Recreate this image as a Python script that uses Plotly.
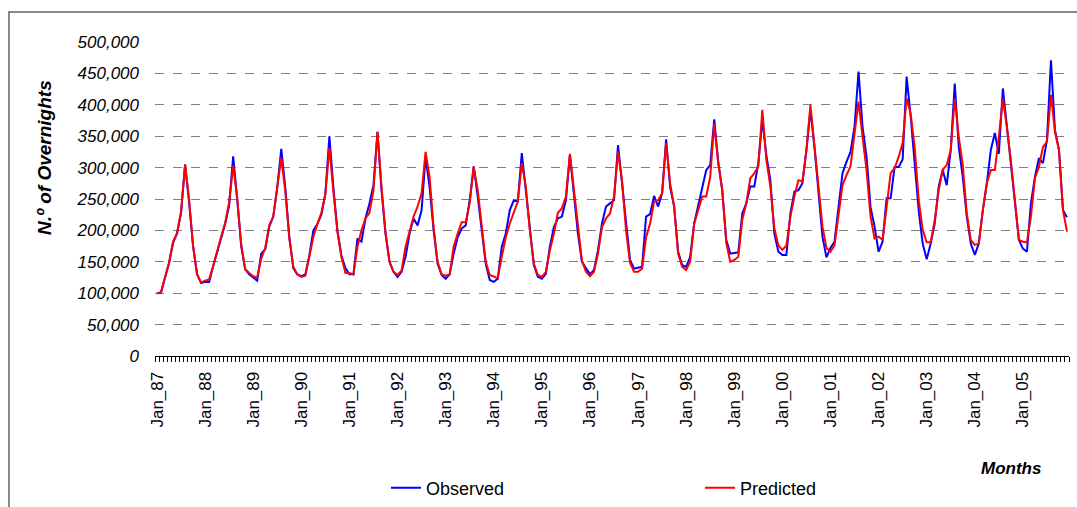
import plotly.graph_objects as go

years = list(range(1987, 2006))
month_names = ["Jan", "Feb", "Mar", "Apr", "May", "Jun", "Jul", "Aug", "Sep", "Oct", "Nov", "Dec"]
months = [f"{m}_{str(y)[2:]}" for y in years for m in month_names]

observed_k = [
    100, 101, 125, 148, 180, 195, 228, 305, 245, 175, 130, 116,   # 1987
    118, 118, 143, 165, 185, 210, 240, 318, 250, 175, 138, 130,   # 1988
    125, 120, 163, 170, 206, 222, 268, 330, 268, 190, 140, 130,   # 1989
    127, 130, 160, 200, 210, 225, 258, 350, 268, 200, 160, 140,   # 1990
    130, 130, 187, 182, 219, 243, 272, 357, 264, 195, 150, 134,   # 1991
    126, 134, 158, 195, 219, 208, 232, 317, 269, 200, 147, 129,   # 1992
    123, 130, 163, 189, 203, 208, 248, 302, 254, 205, 147, 121,   # 1993
    118, 123, 174, 195, 232, 248, 246, 323, 264, 200, 145, 126,   # 1994
    123, 131, 174, 205, 219, 222, 248, 320, 259, 195, 150, 139,   # 1995
    130, 137, 168, 211, 238, 243, 248, 336, 275, 211, 153, 139,   # 1996
    140, 142, 222, 226, 255, 238, 259, 345, 269, 238, 166, 145,   # 1997
    142, 158, 211, 238, 269, 296, 304, 377, 309, 264, 185, 163,   # 1998
    164, 165, 227, 243, 270, 270, 307, 376, 320, 280, 195, 166,   # 1999
    161, 161, 227, 262, 264, 275, 328, 392, 333, 259, 190, 157,   # 2000
    172, 182, 237, 291, 309, 325, 365, 453, 365, 317, 237, 206,   # 2001
    166, 182, 251, 251, 301, 301, 313, 445, 382, 300, 232, 179,   # 2002
    154, 179, 211, 270, 296, 272, 328, 434, 333, 285, 222, 179,   # 2003
    161, 179, 232, 275, 328, 355, 322, 426, 365, 312, 243, 185,   # 2004
    171, 166, 243, 285, 315, 307, 344, 471, 360, 328, 232, 221,   # 2005
]

predicted_k = [
    100, 101, 125, 148, 182, 196, 230, 305, 250, 175, 130, 117,   # 1987
    120, 122, 143, 168, 190, 212, 245, 303, 252, 178, 138, 132,   # 1988
    127, 125, 155, 172, 208, 222, 265, 316, 262, 188, 142, 130,   # 1989
    126, 128, 158, 190, 210, 228, 258, 332, 262, 198, 158, 132,   # 1990
    132, 130, 174, 200, 219, 228, 264, 357, 270, 197, 150, 134,   # 1991
    129, 136, 174, 200, 222, 238, 259, 325, 285, 205, 150, 130,   # 1992
    128, 130, 174, 195, 213, 213, 243, 301, 264, 208, 150, 129,   # 1993
    126, 124, 158, 189, 211, 228, 246, 307, 270, 200, 147, 129,   # 1994
    126, 134, 168, 195, 228, 235, 254, 322, 264, 200, 152, 134,   # 1995
    127, 134, 163, 205, 219, 227, 254, 325, 280, 200, 148, 134,   # 1996
    134, 139, 189, 211, 246, 248, 259, 339, 275, 238, 163, 142,   # 1997
    137, 150, 211, 232, 254, 254, 285, 370, 307, 264, 180, 150,   # 1998
    153, 158, 217, 243, 283, 291, 302, 392, 312, 270, 203, 176,   # 1999
    169, 176, 222, 254, 280, 278, 328, 400, 339, 270, 206, 172,   # 2000
    166, 176, 222, 272, 288, 302, 354, 405, 349, 296, 222, 187,   # 2001
    190, 185, 237, 291, 299, 317, 339, 410, 386, 333, 249, 201,   # 2002
    181, 181, 216, 264, 297, 304, 328, 410, 349, 304, 227, 185,   # 2003
    177, 179, 232, 275, 296, 296, 349, 410, 365, 312, 248, 185,   # 2004
    182, 181, 222, 283, 301, 333, 341, 416, 357, 328, 232, 198,   # 2005
]

observed = [v * 1000 for v in observed_k]
predicted = [v * 1000 for v in predicted_k]
x_idx = list(range(len(months)))
jan_idx = [i for i, m in enumerate(months) if m.startswith("Jan")]
jan_labels = [months[i] for i in jan_idx]

FONT = "Liberation Sans, Arial, sans-serif"

fig = go.Figure()
fig.add_trace(go.Scatter(x=x_idx, y=observed, mode="lines", name="Observed",
                         line=dict(color="#0000FF", width=2)))
fig.add_trace(go.Scatter(x=x_idx, y=predicted, mode="lines", name="Predicted",
                         line=dict(color="#FF0000", width=2)))

W, H = 1077, 507
L, R, T, B = 155, 8, 42, 151
pw, ph = W - L - R, H - T - B

def px(x):
    return (x - L) / pw

def py(y):
    return (H - B - y) / ph

fig.update_layout(
    width=W, height=H,
    margin=dict(l=L, r=R, t=T, b=B, pad=0, autoexpand=False),
    paper_bgcolor="white", plot_bgcolor="white",
    font=dict(family=FONT, color="#000000"),
    showlegend=True,
    legend=dict(orientation="h", x=px(386), y=py(488), xanchor="left", yanchor="middle",
                font=dict(size=18, family=FONT, color="#000000"),
                entrywidth=269, entrywidthmode="pixels",
                bgcolor="rgba(0,0,0,0)", tracegroupgap=0),
    xaxis=dict(range=[-0.5, len(months) - 0.5], tickmode="array", tickvals=jan_idx, ticktext=jan_labels,
               tickangle=-90, ticks="", showgrid=False, zeroline=False, automargin=False,
               showline=True, linecolor="#000000", linewidth=1,
               tickfont=dict(size=17, family=FONT, color="#000000"),
               ticklabelstandoff=8,
               minor=dict(tickmode="array", tickvals=[i - 0.5 for i in range(len(months) + 1)],
                          ticks="outside", ticklen=5, tickcolor="#000000", tickwidth=1, showgrid=False)),
    yaxis=dict(range=[0, 500000], tickmode="linear", tick0=0, dtick=50000, tickformat=",",
               showgrid=True, gridcolor="#808080", gridwidth=1, griddash="9px,9px",
               zeroline=False, showline=False, ticks="", automargin=False,
               ticklabelstandoff=15,
               tickfont=dict(size=17, family=FONT, color="#000000", style="italic")),
    annotations=[
        dict(text="N.º of Overnights", xref="paper", yref="paper", x=px(44), y=py(158),
             xanchor="center", yanchor="middle", textangle=-90, showarrow=False,
             font=dict(size=19, family=FONT, color="#000000", weight="bold", style="italic")),
        dict(text="Months", xref="paper", yref="paper", x=px(1043), y=py(468),
             xanchor="right", yanchor="middle", showarrow=False,
             font=dict(size=17, family=FONT, color="#000000", weight="bold", style="italic")),
    ],
    shapes=[
        dict(type="rect", xref="paper", yref="paper", x0=px(9), x1=px(1090), y0=py(520), y1=py(12),
             line=dict(color="#888888", width=2), fillcolor="rgba(0,0,0,0)", layer="above"),
    ],
)

fig.write_html("out.html", config={"displayModeBar": False},
               post_script="document.body.style.margin='0';document.body.style.overflow='hidden';")
